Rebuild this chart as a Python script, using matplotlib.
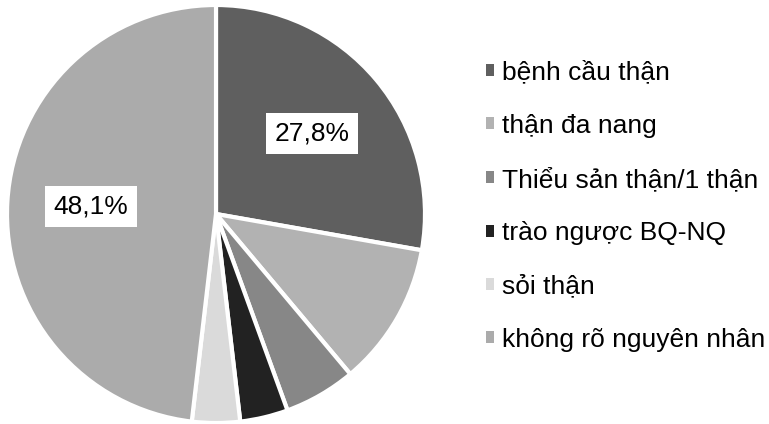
import numpy as np
import matplotlib.pyplot as plt
from matplotlib.patches import Patch

plt.rcParams['font.family'] = ['Liberation Sans', 'DejaVu Sans']

labels = ['bệnh cầu thận', 'thận đa nang', 'Thiểu sản thận/1 thận',
          'trào ngược BQ-NQ', 'sỏi thận', 'không rõ nguyên nhân']
counts = [15, 6, 3, 2, 2, 26]
colors = ['#5f5f5f', '#b2b2b2', '#878787', '#222222', '#dadada', '#ababab']

fig = plt.figure(figsize=(7.69, 4.24), dpi=100)
ax = fig.add_axes([7 / 769, 1 / 424, 418 / 769, 418 / 424])

wedges, _ = ax.pie(counts, colors=colors, startangle=90, counterclock=False,
                   radius=1.0,
                   wedgeprops=dict(edgecolor='white', linewidth=3))
ax.set_xlim(-1, 1)
ax.set_ylim(-1, 1)
ax.set_aspect('equal')
ax.axis('off')

total = sum(counts)
for w, c in zip(wedges, counts):
    pct = c / total * 100
    if pct < 20:
        continue
    theta = np.deg2rad((w.theta1 + w.theta2) / 2)
    r = 0.6
    ax.text(r * np.cos(theta), r * np.sin(theta), f'{pct:.1f}%'.replace('.', ','),
            ha='center', va='center', fontsize=19,
            bbox=dict(facecolor='white', edgecolor='none', pad=6))

handles = [Patch(facecolor=c, edgecolor='none') for c in colors]
fig.legend(handles, labels, loc='upper left', bbox_to_anchor=(475 / 769, 1 - 50 / 424),
           frameon=False, fontsize=19, handlelength=0.32, handleheight=0.32,
           handletextpad=0.3, labelspacing=1.11, borderaxespad=0)

fig.savefig('out.png', dpi=100)
